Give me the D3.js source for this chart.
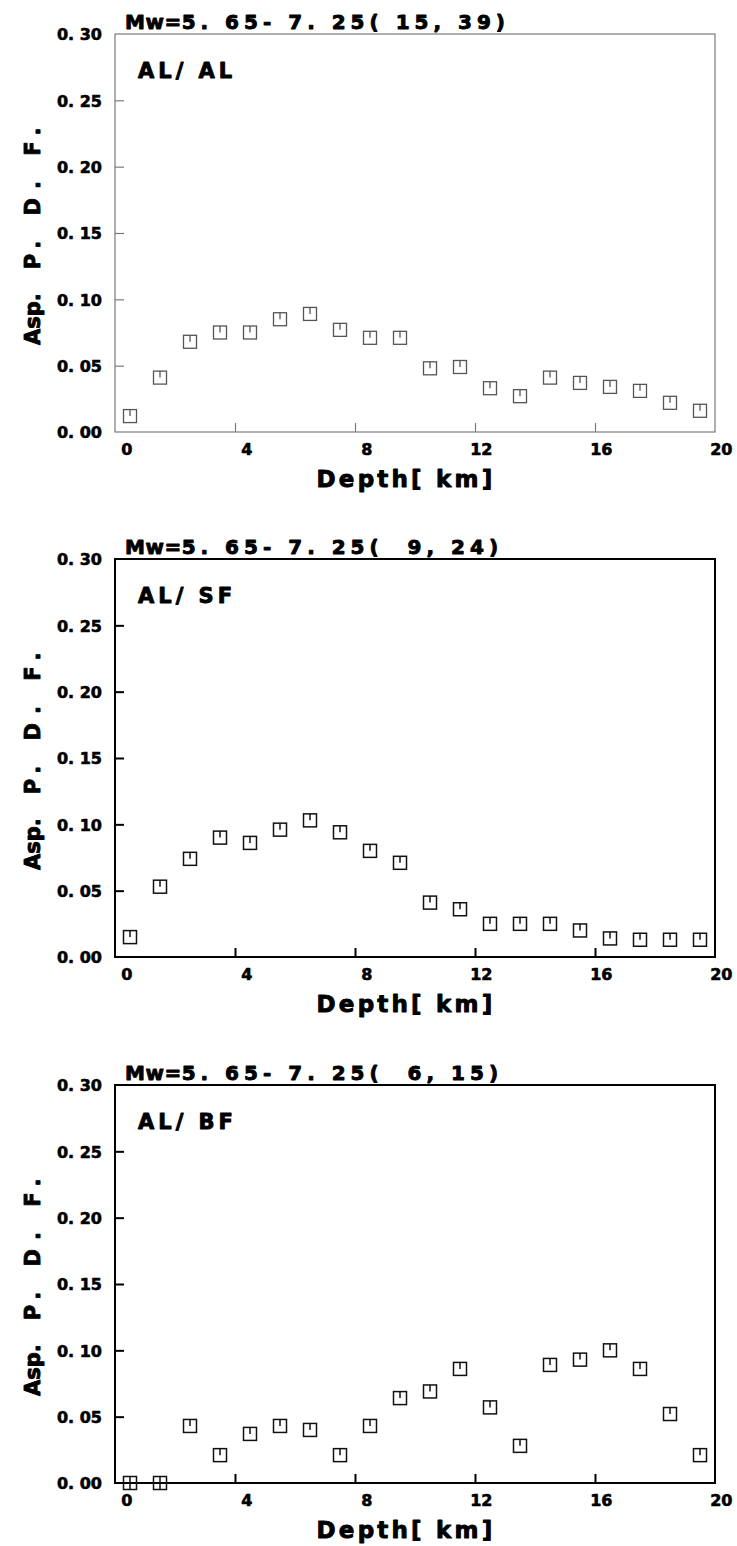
<!DOCTYPE html>
<html>
<head>
<meta charset="utf-8">
<script src="https://cdn.jsdelivr.net/npm/d3@7"></script>
<style>
  html, body { margin: 0; padding: 0; background: #fff; }
  svg { display: block; }
  text { font-family: "DejaVu Sans", "Liberation Sans", sans-serif; font-weight: bold; fill: #000; white-space: pre;
         stroke: #000; paint-order: stroke; stroke-linejoin: round; }
  text.big { stroke-width: 0.9px; }
  text.small { stroke-width: 0.6px; }
</style>
</head>
<body>
<svg id="chart" width="737" height="1546"></svg>
<script>
// ---- data ----
const depths = [0.5, 1.5, 2.5, 3.5, 4.5, 5.5, 6.5, 7.5, 8.5, 9.5,
                10.5, 11.5, 12.5, 13.5, 14.5, 15.5, 16.5, 17.5, 18.5, 19.5];
const pdfALAL = [0.012, 0.041, 0.068, 0.075, 0.075, 0.085, 0.089, 0.077, 0.071, 0.071,
                 0.048, 0.049, 0.033, 0.027, 0.041, 0.037, 0.034, 0.031, 0.022, 0.016];
const pdfALSF = [0.015, 0.053, 0.074, 0.090, 0.086, 0.096, 0.103, 0.094, 0.080, 0.071,
                 0.041, 0.036, 0.025, 0.025, 0.025, 0.020, 0.014, 0.013, 0.013, 0.013];
const pdfALBF = [0.000, 0.000, 0.043, 0.021, 0.037, 0.043, 0.040, 0.021, 0.043, 0.064,
                 0.069, 0.086, 0.057, 0.028, 0.089, 0.093, 0.100, 0.086, 0.052, 0.021];
const panelTitlesHead = ["Mw=", "Mw=", "Mw="];
const panelTitlesTail = ["5. 65- 7. 25( 15, 39)", "5. 65- 7. 25(  9, 24)", "5. 65- 7. 25(  6, 15)"];
const panelLabels = ["AL/ AL", "AL/ SF", "AL/ BF"];
const xTickValues = [0, 4, 8, 12, 16, 20];
const yTickValues = [0, 0.05, 0.10, 0.15, 0.20, 0.25, 0.30];
const xAxisTitle = "Depth[ km]";
const yAxisTitleA = "Asp.";
const yAxisTitleB = "P. D. F.";

const series = [pdfALAL, pdfALSF, pdfALBF];

// ---- layout ----
const svg = d3.select("#chart");
const left = 115, right = 715;
const tops = [34, 559, 1085];
const plotH = 398;
const styles = [
  { axis: "#7a7a7a", axisW: 1.2, mark: "#555", markW: 1.3 },
  { axis: "#000", axisW: 2, mark: "#111", markW: 1.5 },
  { axis: "#000", axisW: 2, mark: "#111", markW: 1.5 }
];

const x = d3.scaleLinear().domain([0, 20]).range([left, right]);

series.forEach((vals, i) => {
  const top = tops[i];
  const bottom = top + plotH;
  const st = styles[i];
  const y = d3.scaleLinear().domain([0, 0.30]).range([bottom, top]);
  const g = svg.append("g");

  // x axis (ticks inward, labels right-shifted)
  const xa = g.append("g").attr("transform", `translate(0,${bottom})`)
    .call(d3.axisBottom(x).tickValues(xTickValues).tickSizeInner(-9).tickSizeOuter(0).tickFormat(d3.format("d")));
  xa.select(".domain").remove();
  xa.selectAll(".tick line").attr("stroke", st.axis).attr("stroke-width", st.axisW)
    .attr("display", d => (d === 0 || d === 20) ? "none" : null);
  xa.selectAll(".tick text")
    .attr("class", "small")
    .attr("y", 23).attr("dy", 0).attr("x", 17)
    .attr("text-anchor", "end")
    .style("font-size", "16px").attr("fill", "#000");

  // y axis
  const ya = g.append("g").attr("transform", `translate(${left},0)`)
    .call(d3.axisLeft(y).tickValues(yTickValues).tickSizeInner(-9).tickSizeOuter(0)
      .tickFormat(d => d3.format(".2f")(d).replace(".", ". ")));
  ya.select(".domain").remove();
  ya.selectAll(".tick line").attr("stroke", st.axis).attr("stroke-width", st.axisW)
    .attr("display", d => (d === 0 || d === 0.30) ? "none" : null);
  ya.selectAll(".tick text")
    .attr("class", "small")
    .attr("x", -13).attr("dy", "0.36em")
    .attr("text-anchor", "end")
    .style("font-size", "16px").attr("fill", "#000");

  // frame
  g.append("rect")
    .attr("x", x(0)).attr("y", y(0.30))
    .attr("width", x(20) - x(0)).attr("height", y(0) - y(0.30))
    .attr("fill", "none").attr("stroke", st.axis).attr("stroke-width", st.axisW);

  // markers: open squares with a short vertical bar from the top edge
  const s = 13;
  const pts = g.append("g").selectAll("g").data(depths.map((d, k) => ({ d, v: vals[k] })))
    .join("g").attr("transform", p => `translate(${x(p.d)},${y(p.v)})`);
  pts.append("rect")
    .attr("x", -s / 2).attr("y", -s / 2).attr("width", s).attr("height", s)
    .attr("fill", "none").attr("stroke", st.mark).attr("stroke-width", st.markW);
  pts.append("line")
    .attr("x1", 0).attr("x2", 0)
    .attr("y1", -s / 2).attr("y2", p => p.v === 0 ? s / 2 : 0)
    .attr("stroke", st.mark).attr("stroke-width", st.markW);

  // title
  const t = g.append("text").attr("class", "big").attr("x", 125).attr("y", top - 5.5).style("font-size", "20px");
  t.append("tspan").attr("letter-spacing", 0.5).text(panelTitlesHead[i]);
  t.append("tspan").attr("letter-spacing", 5).text(panelTitlesTail[i]);

  // panel label
  g.append("text").attr("class", "big").attr("x", left + 23).attr("y", top + 44)
    .style("font-size", "21px").attr("letter-spacing", 4).text(panelLabels[i]);

  // x axis title
  g.append("text").attr("class", "big").attr("x", 406).attr("y", bottom + 55)
    .attr("text-anchor", "middle").style("font-size", "23px").attr("letter-spacing", 3.2)
    .text(xAxisTitle);

  // y axis title (rotated)
  const yt = g.append("text").attr("class", "big")
    .attr("transform", `translate(40,${top + 311}) rotate(-90)`)
    .style("font-size", "21px");
  yt.append("tspan").text(yAxisTitleA);
  yt.append("tspan").attr("dx", 24).attr("letter-spacing", 9).text(yAxisTitleB);
});
</script>
</body>
</html>
